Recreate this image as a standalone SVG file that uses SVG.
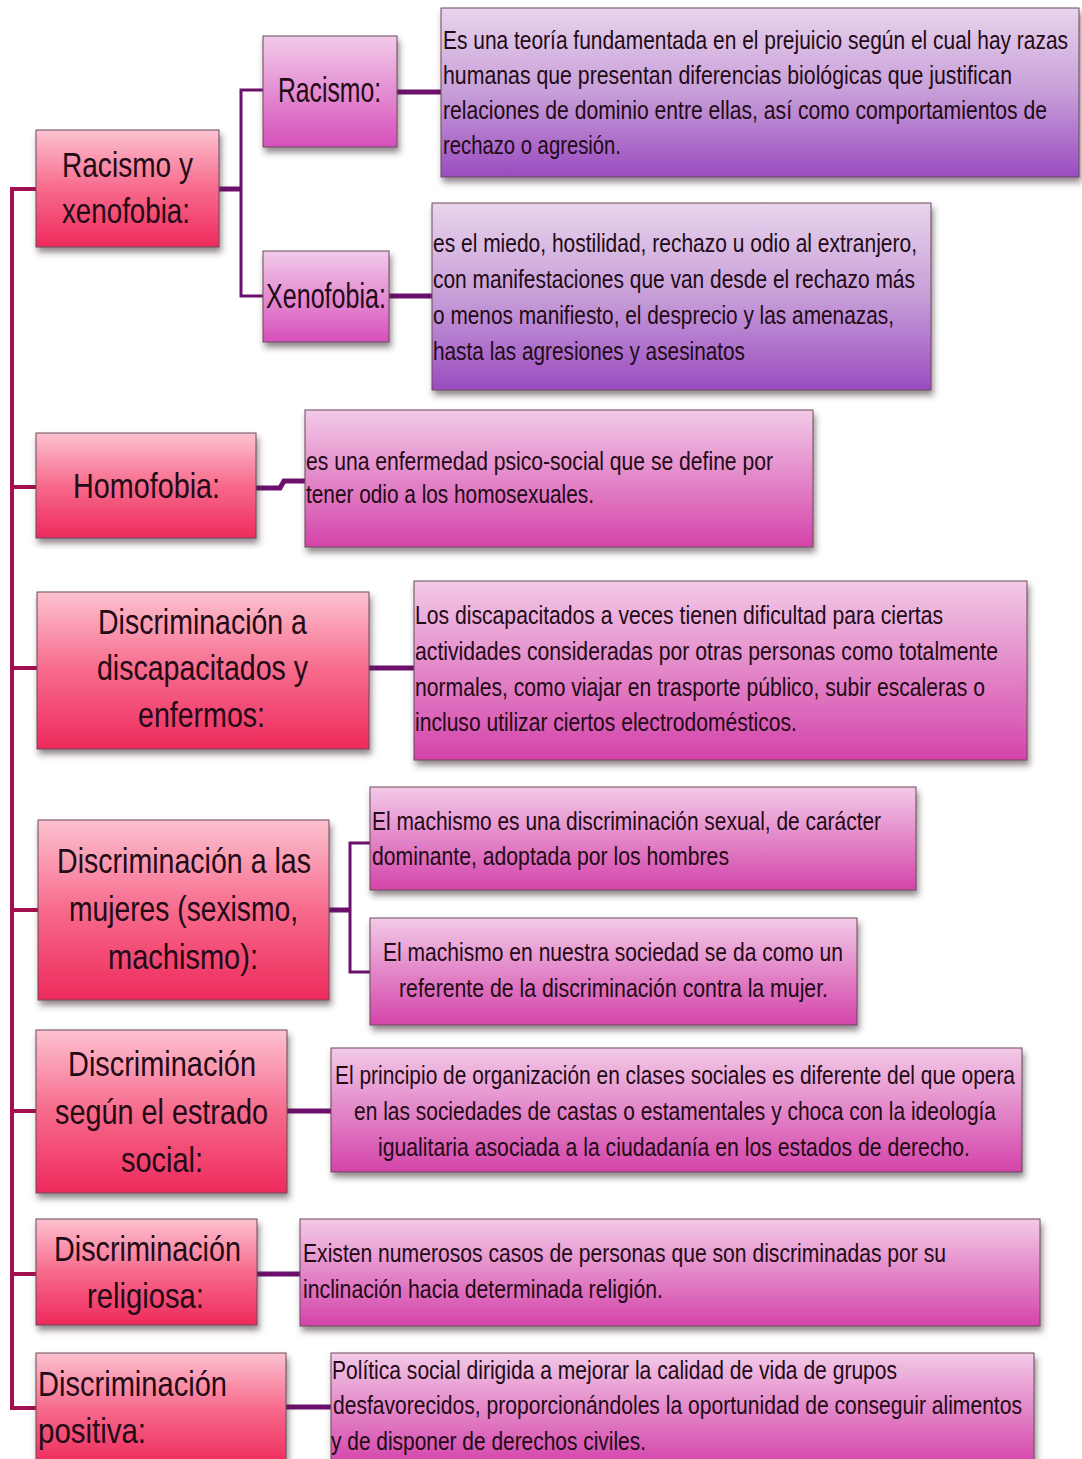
<svg xmlns="http://www.w3.org/2000/svg" width="1082" height="1459" viewBox="0 0 1082 1459">
<defs>
<linearGradient id="gRed" x1="0" y1="0" x2="0" y2="1">
<stop offset="0" stop-color="#fcc2d0"/><stop offset="0.5" stop-color="#f76a8c"/><stop offset="1" stop-color="#ee2a5c"/>
</linearGradient>
<linearGradient id="gSub" x1="0" y1="0" x2="0" y2="1">
<stop offset="0" stop-color="#f2cbe9"/><stop offset="1" stop-color="#d650bb"/>
</linearGradient>
<linearGradient id="gPur" x1="0" y1="0" x2="0" y2="1">
<stop offset="0" stop-color="#e8d4ec"/><stop offset="0.5" stop-color="#c79ed8"/><stop offset="1" stop-color="#9a4cc0"/>
</linearGradient>
<linearGradient id="gPink" x1="0" y1="0" x2="0" y2="1">
<stop offset="0" stop-color="#f2cae7"/><stop offset="1" stop-color="#d444aa"/>
</linearGradient>
<filter id="sh" x="-5%" y="-10%" width="115%" height="130%">
<feDropShadow dx="2" dy="5" stdDeviation="3" flood-color="#3a2a30" flood-opacity="0.55"/>
</filter>
<style>
.box{stroke:#6d4a5c;stroke-width:1;filter:url(#sh)}
.red{fill:url(#gRed)}
.sub{fill:url(#gSub)}
.pur{fill:url(#gPur)}
.pink{fill:url(#gPink)}
text{font-family:"Liberation Sans Narrow","Liberation Sans",Arial,sans-serif;fill:#220a16}
.t{font-size:36px}
.d{font-size:25px}
.trunk{fill:none;stroke:#a3104f;stroke-width:4}
.con{fill:none;stroke:#6c106c;stroke-width:5}
.br{fill:none;stroke:#6c106c;stroke-width:3}
</style>
</defs>
<rect width="1082" height="1459" fill="#ffffff"/>

<g id="connectors">
<path class="trunk" d="M36 189 H12 V1408 H36"/>
<path class="trunk" d="M12 487 H36 M12 668 H37 M12 910 H38 M12 1111 H36 M12 1274 H36"/>
<path class="con" d="M219 189 H241"/>
<path class="br" d="M263 90 H241 V296 H263"/>
<path class="con" d="M397 92 H441"/>
<path class="con" d="M389 296 H432"/>
<path class="con" d="M256 488 H280 L284 481 H305"/>
<path class="con" d="M369 668 H414"/>
<path class="con" d="M329 910 H350"/>
<path class="br" d="M370 843 H350 V972 H370"/>
<path class="con" d="M287 1111 H331"/>
<path class="con" d="M257 1274 H300"/>
<path class="con" d="M286 1407 H331"/>
</g>

<g id="n-racismo-xenofobia">
<rect class="box red" x="36" y="130" width="183" height="117"/>
<text class="t" transform="translate(62 177) scale(0.78 1)" textLength="167.9" lengthAdjust="spacingAndGlyphs">Racismo y</text>
<text class="t" transform="translate(62 223) scale(0.78 1)" textLength="164.1" lengthAdjust="spacingAndGlyphs">xenofobia:</text>
</g>

<g id="n-racismo">
<rect class="box sub" x="263" y="36" width="134" height="111"/>
<text class="t" transform="translate(278 102) scale(0.78 1)" textLength="132.1" lengthAdjust="spacingAndGlyphs">Racismo:</text>
</g>

<g id="n-xenofobia">
<rect class="box sub" x="263" y="251" width="126" height="91"/>
<text class="t" transform="translate(266 308) scale(0.78 1)" textLength="153.8" lengthAdjust="spacingAndGlyphs">Xenofobia:</text>
</g>

<g id="d-racismo">
<rect class="box pur" x="441" y="8" width="638" height="169"/>
<text class="d" transform="translate(443 49) scale(0.78 1)" textLength="801.3" lengthAdjust="spacingAndGlyphs">Es una teoría fundamentada en el prejuicio según el cual hay razas</text>
<text class="d" transform="translate(443 84) scale(0.78 1)" textLength="729.5" lengthAdjust="spacingAndGlyphs">humanas que presentan diferencias biológicas que justifican</text>
<text class="d" transform="translate(443 119) scale(0.78 1)" textLength="774.4" lengthAdjust="spacingAndGlyphs">relaciones de dominio entre ellas, así como comportamientos de</text>
<text class="d" transform="translate(443 154) scale(0.78 1)" textLength="228.2" lengthAdjust="spacingAndGlyphs">rechazo o agresión.</text>
</g>

<g id="d-xenofobia">
<rect class="box pur" x="432" y="203" width="499" height="187"/>
<text class="d" transform="translate(433 252) scale(0.78 1)" textLength="620.5" lengthAdjust="spacingAndGlyphs">es el miedo, hostilidad, rechazo u odio al extranjero,</text>
<text class="d" transform="translate(433 288) scale(0.78 1)" textLength="617.9" lengthAdjust="spacingAndGlyphs">con manifestaciones que van desde el rechazo más</text>
<text class="d" transform="translate(433 324) scale(0.78 1)" textLength="591.0" lengthAdjust="spacingAndGlyphs">o menos manifiesto, el desprecio y las amenazas,</text>
<text class="d" transform="translate(433 360) scale(0.78 1)" textLength="400.0" lengthAdjust="spacingAndGlyphs">hasta las agresiones y asesinatos</text>
</g>

<g id="n-homofobia">
<rect class="box red" x="36" y="433" width="220" height="105"/>
<text class="t" transform="translate(73 498) scale(0.78 1)" textLength="188.5" lengthAdjust="spacingAndGlyphs">Homofobia:</text>
</g>

<g id="d-homofobia">
<rect class="box pink" x="305" y="410" width="508" height="137"/>
<text class="d" transform="translate(306 470) scale(0.78 1)" textLength="598.7" lengthAdjust="spacingAndGlyphs">es una enfermedad psico-social que se define por</text>
<text class="d" transform="translate(306 503) scale(0.78 1)" textLength="369.2" lengthAdjust="spacingAndGlyphs">tener odio a los homosexuales.</text>
</g>

<g id="n-discapacitados">
<rect class="box red" x="37" y="592" width="332" height="157"/>
<text class="t" transform="translate(98 634) scale(0.78 1)" textLength="267.9" lengthAdjust="spacingAndGlyphs">Discriminación a</text>
<text class="t" transform="translate(97 680) scale(0.78 1)" textLength="270.5" lengthAdjust="spacingAndGlyphs">discapacitados y</text>
<text class="t" transform="translate(138 727) scale(0.78 1)" textLength="162.8" lengthAdjust="spacingAndGlyphs">enfermos:</text>
</g>

<g id="d-discapacitados">
<rect class="box pink" x="414" y="581" width="613" height="179"/>
<text class="d" transform="translate(415 624) scale(0.78 1)" textLength="676.9" lengthAdjust="spacingAndGlyphs">Los discapacitados a veces tienen dificultad para ciertas</text>
<text class="d" transform="translate(415 660) scale(0.78 1)" textLength="747.4" lengthAdjust="spacingAndGlyphs">actividades consideradas por otras personas como totalmente</text>
<text class="d" transform="translate(415 696) scale(0.78 1)" textLength="730.8" lengthAdjust="spacingAndGlyphs">normales, como viajar en trasporte público, subir escaleras o</text>
<text class="d" transform="translate(415 731) scale(0.78 1)" textLength="489.7" lengthAdjust="spacingAndGlyphs">incluso utilizar ciertos electrodomésticos.</text>
</g>

<g id="n-mujeres">
<rect class="box red" x="38" y="820" width="291" height="180"/>
<text class="t" transform="translate(57 873) scale(0.78 1)" textLength="325.6" lengthAdjust="spacingAndGlyphs">Discriminación a las</text>
<text class="t" transform="translate(69 921) scale(0.78 1)" textLength="293.6" lengthAdjust="spacingAndGlyphs">mujeres (sexismo,</text>
<text class="t" transform="translate(108 969) scale(0.78 1)" textLength="192.3" lengthAdjust="spacingAndGlyphs">machismo):</text>
</g>

<g id="d-machismo-1">
<rect class="box pink" x="370" y="787" width="546" height="103"/>
<text class="d" transform="translate(372 830) scale(0.78 1)" textLength="652.6" lengthAdjust="spacingAndGlyphs">El machismo es una discriminación sexual, de carácter</text>
<text class="d" transform="translate(372 865) scale(0.78 1)" textLength="457.7" lengthAdjust="spacingAndGlyphs">dominante, adoptada por los hombres</text>
</g>

<g id="d-machismo-2">
<rect class="box pink" x="370" y="918" width="487" height="107"/>
<text class="d" transform="translate(383 961) scale(0.78 1)" textLength="589.7" lengthAdjust="spacingAndGlyphs">El machismo en nuestra sociedad se da como un</text>
<text class="d" transform="translate(399 997) scale(0.78 1)" textLength="550.0" lengthAdjust="spacingAndGlyphs">referente de la discriminación contra la mujer.</text>
</g>

<g id="n-estrado">
<rect class="box red" x="36" y="1030" width="251" height="163"/>
<text class="t" transform="translate(68 1076) scale(0.78 1)" textLength="241.0" lengthAdjust="spacingAndGlyphs">Discriminación</text>
<text class="t" transform="translate(55 1124) scale(0.78 1)" textLength="273.1" lengthAdjust="spacingAndGlyphs">según el estrado</text>
<text class="t" transform="translate(121 1172) scale(0.78 1)" textLength="105.1" lengthAdjust="spacingAndGlyphs">social:</text>
</g>

<g id="d-estrado">
<rect class="box pink" x="331" y="1048" width="691" height="124"/>
<text class="d" transform="translate(335 1084) scale(0.78 1)" textLength="871.8" lengthAdjust="spacingAndGlyphs">El principio de organización en clases sociales es diferente del que opera</text>
<text class="d" transform="translate(354 1120) scale(0.78 1)" textLength="823.1" lengthAdjust="spacingAndGlyphs">en las sociedades de castas o estamentales y choca con la ideología</text>
<text class="d" transform="translate(378 1156) scale(0.78 1)" textLength="759.0" lengthAdjust="spacingAndGlyphs">igualitaria asociada a la ciudadanía en los  estados de derecho.</text>
</g>

<g id="n-religiosa">
<rect class="box red" x="36" y="1219" width="221" height="106"/>
<text class="t" transform="translate(54 1261) scale(0.78 1)" textLength="239.7" lengthAdjust="spacingAndGlyphs">Discriminación</text>
<text class="t" transform="translate(87 1308) scale(0.78 1)" textLength="150.0" lengthAdjust="spacingAndGlyphs">religiosa:</text>
</g>

<g id="d-religiosa">
<rect class="box pink" x="300" y="1219" width="740" height="107"/>
<text class="d" transform="translate(303 1262) scale(0.78 1)" textLength="824.4" lengthAdjust="spacingAndGlyphs">Existen numerosos  casos de personas que son discriminadas por su</text>
<text class="d" transform="translate(303 1298) scale(0.78 1)" textLength="461.5" lengthAdjust="spacingAndGlyphs">inclinación hacia determinada religión.</text>
</g>

<g id="n-positiva">
<rect class="box red" x="36" y="1353" width="250" height="112"/>
<text class="t" transform="translate(38 1396) scale(0.78 1)" textLength="242.3" lengthAdjust="spacingAndGlyphs">Discriminación</text>
<text class="t" transform="translate(38 1443) scale(0.78 1)" textLength="138.5" lengthAdjust="spacingAndGlyphs">positiva:</text>
</g>

<g id="d-positiva">
<rect class="box pink" x="331" y="1353" width="703" height="112"/>
<text class="d" transform="translate(332 1379) scale(0.78 1)" textLength="724.4" lengthAdjust="spacingAndGlyphs">Política social dirigida a mejorar  la calidad de vida de grupos</text>
<text class="d" transform="translate(333 1414) scale(0.78 1)" textLength="883.3" lengthAdjust="spacingAndGlyphs">desfavorecidos, proporcionándoles la oportunidad de conseguir alimentos</text>
<text class="d" transform="translate(331 1450) scale(0.78 1)" textLength="403.8" lengthAdjust="spacingAndGlyphs">y de disponer de derechos civiles.</text>
</g>
</svg>
